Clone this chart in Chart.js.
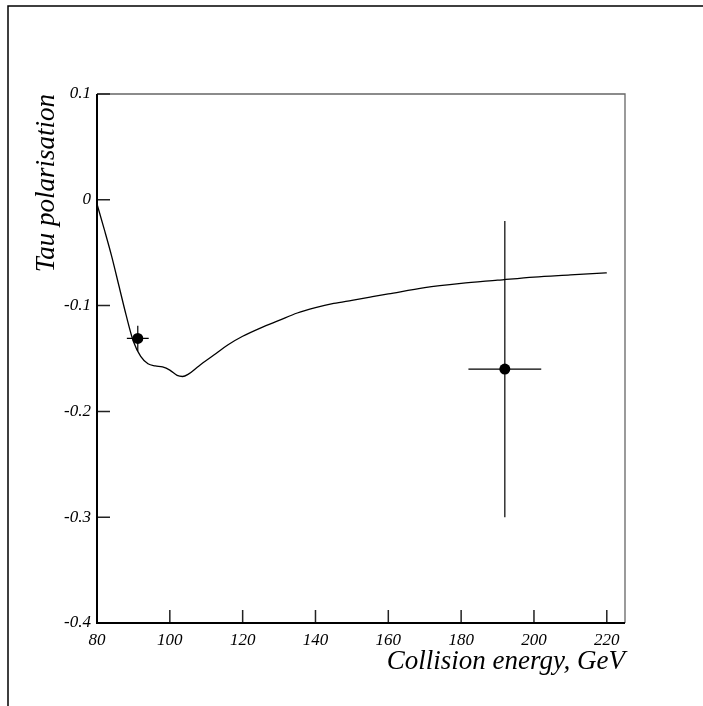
<!DOCTYPE html>
<html>
<head>
<meta charset="utf-8">
<script src="https://cdn.jsdelivr.net/npm/chart.js@4"></script>
<style>
  html, body { margin: 0; padding: 0; background: #fff; }
</style>
</head>
<body>
<canvas id="tauChart" width="703" height="706"></canvas>
<script>
// theory curve
const curveEnergy = [80, 82, 84, 86, 88, 90, 92, 94, 96, 98, 100, 102, 103.5, 105, 108, 112, 116, 120, 125, 130, 135, 140, 145, 150, 155, 160, 170, 180, 190, 200, 210, 220];
const curvePolarisation = [-0.004, -0.028, -0.053, -0.081, -0.109, -0.134, -0.148, -0.155, -0.157, -0.158, -0.161, -0.166, -0.167, -0.165, -0.157, -0.147, -0.137, -0.129, -0.121, -0.114, -0.107, -0.102, -0.098, -0.095, -0.092, -0.089, -0.083, -0.079, -0.076, -0.073, -0.071, -0.069];

// measurements
const pointEnergy = [91.2, 192];
const pointPolarisation = [-0.131, -0.16];
const pointEnergyErr = [3, 10];
const pointPolarisationErr = [0.012, 0.14];

const xTicks = [80, 100, 120, 140, 160, 180, 200, 220];
const yTicks = [-0.4, -0.3, -0.2, -0.1, 0, 0.1];
const yTickLabels = ["-0.4", "-0.3", "-0.2", "-0.1", "0", "0.1"];

const serif = "'Liberation Serif', 'Times New Roman', serif";

// frame, box and inner tick marks
const framePlugin = {
  id: "frame",
  afterDraw(chart) {
    const { ctx, chartArea: a, scales: { x, y } } = chart;
    ctx.save();
    ctx.strokeStyle = "#000";
    ctx.lineWidth = 1.5;
    ctx.beginPath();
    ctx.moveTo(8, chart.height);
    ctx.lineTo(8, 6);
    ctx.lineTo(chart.width, 6);
    ctx.stroke();

    ctx.strokeStyle = "#666";
    ctx.lineWidth = 1.3;
    ctx.beginPath();
    ctx.moveTo(a.left, a.top);
    ctx.lineTo(a.right, a.top);
    ctx.lineTo(a.right, a.bottom);
    ctx.stroke();

    ctx.strokeStyle = "#222";
    ctx.lineWidth = 1.5;
    ctx.beginPath();
    yTicks.forEach(v => {
      const py = y.getPixelForValue(v);
      ctx.moveTo(a.left, py);
      ctx.lineTo(a.left + 13, py);
    });
    xTicks.forEach(v => {
      const px = x.getPixelForValue(v);
      ctx.moveTo(px, a.bottom);
      ctx.lineTo(px, a.bottom - 13);
    });
    ctx.stroke();

    ctx.strokeStyle = "#000";
    ctx.lineWidth = 2;
    ctx.beginPath();
    ctx.moveTo(a.left, a.top);
    ctx.lineTo(a.left, a.bottom);
    ctx.lineTo(a.right, a.bottom);
    ctx.stroke();
    ctx.restore();
  }
};

// error bars for the measurements
const errorBarPlugin = {
  id: "errorBars",
  afterDatasetsDraw(chart) {
    const { ctx, scales: { x, y } } = chart;
    ctx.save();
    ctx.strokeStyle = "#000";
    ctx.lineWidth = 1.2;
    ctx.beginPath();
    pointEnergy.forEach((e, i) => {
      const p = pointPolarisation[i];
      const px = x.getPixelForValue(e);
      const py = y.getPixelForValue(p);
      ctx.moveTo(x.getPixelForValue(e - pointEnergyErr[i]), py);
      ctx.lineTo(x.getPixelForValue(e + pointEnergyErr[i]), py);
      ctx.moveTo(px, y.getPixelForValue(p + pointPolarisationErr[i]));
      ctx.lineTo(px, y.getPixelForValue(p - pointPolarisationErr[i]));
    });
    ctx.stroke();
    ctx.restore();
  }
};

const ctx = document.getElementById("tauChart").getContext("2d");

new Chart(ctx, {
  type: "scatter",
  data: {
    datasets: [
      {
        label: "theory",
        data: curveEnergy.map((e, i) => ({ x: e, y: curvePolarisation[i] })),
        showLine: true,
        borderColor: "#000",
        borderWidth: 1.3,
        pointRadius: 0,
        cubicInterpolationMode: "monotone",
        fill: false,
      },
      {
        label: "data",
        data: pointEnergy.map((e, i) => ({ x: e, y: pointPolarisation[i] })),
        backgroundColor: "#000",
        borderColor: "#000",
        pointRadius: 5.5,
        pointBorderWidth: 0,
      },
    ],
  },
  options: {
    responsive: false,
    animation: false,
    layout: { padding: { top: 94, right: 78, left: 0, bottom: 0 } },
    plugins: {
      legend: { display: false },
      tooltip: { enabled: false },
    },
    scales: {
      x: {
        type: "linear",
        min: 80,
        max: 225,
        grid: { display: false, drawTicks: false },
        border: { display: false },
        afterBuildTicks: s => { s.ticks = xTicks.map(v => ({ value: v })); },
        afterFit: s => { s.height = 83; },
        ticks: {
          color: "#000",
          padding: 7,
          maxRotation: 0,
          font: { family: serif, style: "italic", size: 17 },
        },
        title: {
          display: true,
          text: "Collision energy, GeV",
          align: "end",
          color: "#000",
          padding: { top: 0, bottom: 28 },
          font: { family: serif, style: "italic", size: 27 },
        },
      },
      y: {
        type: "linear",
        min: -0.4,
        max: 0.1,
        grid: { display: false, drawTicks: false },
        border: { display: false },
        afterBuildTicks: s => { s.ticks = yTicks.map(v => ({ value: v })); },
        afterFit: s => { s.width = 97; },
        ticks: {
          color: "#000",
          padding: 6,
          callback: v => yTickLabels[yTicks.findIndex(t => Math.abs(t - v) < 1e-9)],
          font: { family: serif, style: "italic", size: 17 },
        },
        title: {
          display: true,
          text: "Tau polarisation",
          align: "end",
          color: "#000",
          padding: { top: 31, bottom: 0 },
          font: { family: serif, style: "italic", size: 27 },
        },
      },
    },
  },
  plugins: [framePlugin, errorBarPlugin],
});
</script>
</body>
</html>
